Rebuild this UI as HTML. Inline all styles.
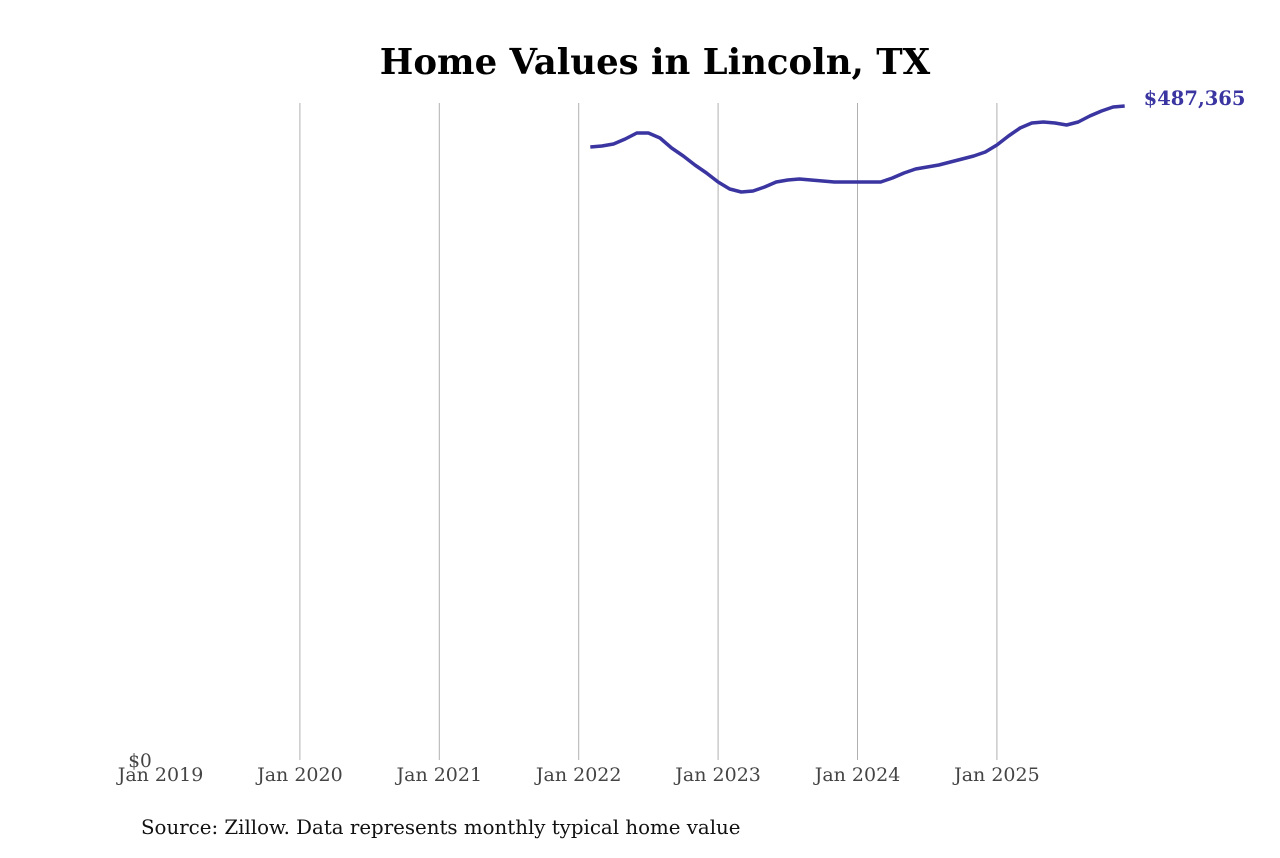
<!DOCTYPE html>
<html><head><meta charset="utf-8"><style>
body{margin:0;background:#fff;}
svg text{font-family:"DejaVu Serif","Liberation Serif",serif;}
</style></head><body>
<svg width="1280" height="853" viewBox="0 0 1280 853">
<text x="655" y="74" text-anchor="middle" font-size="35.5" font-weight="bold" fill="#000">Home Values in Lincoln, TX</text>
<g id="grid"></g>
<g id="xt"></g>
<text x="140" y="767" text-anchor="middle" font-size="18.5" fill="#444">$0</text>
<path id="line" fill="none" stroke="#3a35a0" stroke-width="3.5" stroke-linejoin="round"></path>
<text id="endlabel" font-size="19.5" font-weight="bold" fill="#3a35a0"></text>
<text x="141" y="834" font-size="19.8" fill="#111">Source: Zillow. Data represents monthly typical home value</text>
</svg>
<script>
const tickYears = [2019, 2020, 2021, 2022, 2023, 2024, 2025];
const startYear = 2022, startMonth = 1; // Feb 2022 (0-based month)
const values = [
456808,457553,459043,462769,467240,467240,463514,456062,450101,443394,437432,
430726,425509,423274,424019,427000,430726,432216,432961,432216,431471,430726,430726,
430726,430726,430726,433706,437432,440413,441904,443394,445630,447865,450101,453082,
458298,465005,470966,474692,475438,474692,473202,475438,479909,483635,486616,487365
];
const NS="http://www.w3.org/2000/svg";
const x0=160.5, pxYear=139.4, y0=760, yTop=106, vMax=487365;
const xScale = (yr, m) => x0 + (yr - 2019 + m/12) * pxYear;
const yScale = v => y0 - v / vMax * (y0 - yTop);
const grid=document.getElementById('grid'), xt=document.getElementById('xt');
tickYears.forEach((yr,i)=>{
  const x=xScale(yr,0);
  if(i>0){
    const l=document.createElementNS(NS,'line');
    l.setAttribute('x1',x);l.setAttribute('x2',x);l.setAttribute('y1',103);l.setAttribute('y2',760);
    l.setAttribute('stroke','#b0b0b0');l.setAttribute('stroke-width','1');
    
    
    grid.appendChild(l);
  }
  const t=document.createElementNS(NS,'text');
  t.setAttribute('x',x);t.setAttribute('y',781);t.setAttribute('text-anchor','middle');
  t.setAttribute('font-size','19');t.setAttribute('fill','#444');
  t.textContent='Jan '+yr;
  
  
  xt.appendChild(t);
});
let d='', lx=0, ly=0;
values.forEach((v,i)=>{
  const mIdx=startMonth+i;
  const x=xScale(startYear+Math.floor(mIdx/12), mIdx%12);
  const y=yScale(v);
  d+=(i?'L':'M')+x.toFixed(1)+' '+y.toFixed(1);
  lx=x;ly=y;
});
document.getElementById('line').setAttribute('d',d);
const el=document.getElementById('endlabel');
el.setAttribute('x',lx+19);el.setAttribute('y',ly-1);
el.textContent='$'+values[values.length-1].toLocaleString('en-US');
</script>
</body></html>
